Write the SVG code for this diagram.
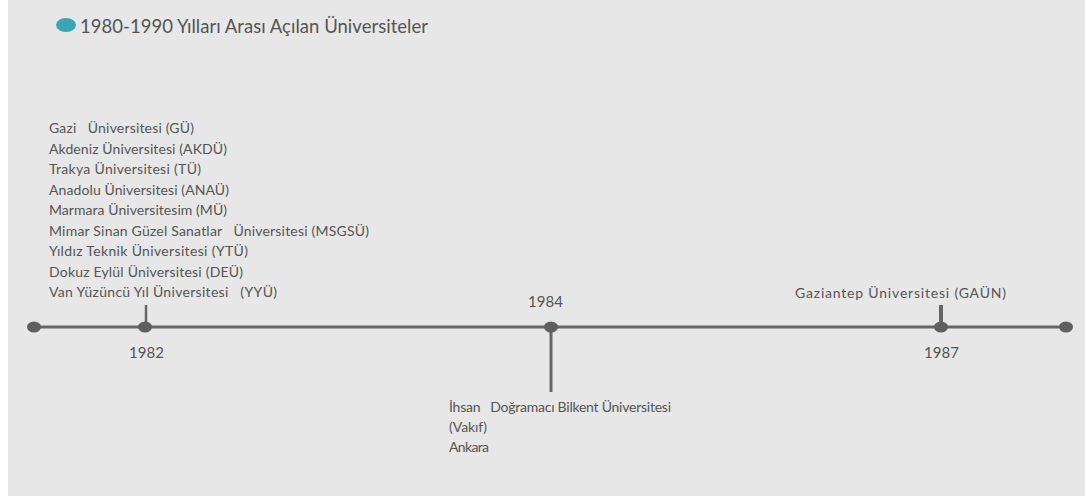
<svg xmlns="http://www.w3.org/2000/svg" width="1085" height="496" viewBox="0 0 1085 496">
<style>
.t{font-family:Lato,"Open Sans","Liberation Sans",sans-serif;fill:#555;font-size:14px}
.y{font-family:Lato,"Open Sans","Liberation Sans",sans-serif;fill:#555;font-size:15px}
.title{font-family:Lato,"Open Sans","Liberation Sans",sans-serif;fill:#555;font-size:18.5px}
.ln{stroke:#666;fill:none}
.dot{fill:#5f5f5f}
</style>
<rect x="8" y="0" width="1077" height="496" fill="#e6e7e6"/>
<g id="title">
<ellipse cx="66" cy="25" rx="10" ry="7" fill="#3aa6b5"/>
<text class="title" x="80" y="33" textLength="348" lengthAdjust="spacing">1980-1990 Yılları Arası Açılan Üniversiteler</text>
</g>
<g id="connectors">
<line class="ln" x1="34" y1="327" x2="1066" y2="327" stroke-width="3"/>
<line class="ln" x1="146" y1="305" x2="146" y2="327" stroke-width="2.5"/>
<line class="ln" x1="551" y1="327" x2="551" y2="392" stroke-width="3"/>
<line class="ln" x1="941" y1="305" x2="941" y2="324" stroke-width="4"/>
</g>
<g id="start"><ellipse class="dot" cx="34" cy="327" rx="7" ry="5.5"/></g>
<g id="end"><ellipse class="dot" cx="1066" cy="327" rx="7" ry="5.5"/></g>
<g id="n1982">
<ellipse class="dot" cx="145" cy="327" rx="7" ry="5.5"/>
<text class="y" x="129" y="358" textLength="35" lengthAdjust="spacing">1982</text>
<text class="t" x="49" y="133" xml:space="preserve" textLength="145" lengthAdjust="spacing">Gazi   Üniversitesi (GÜ)</text>
<text class="t" x="49" y="153.5" textLength="178" lengthAdjust="spacing">Akdeniz Üniversitesi (AKDÜ)</text>
<text class="t" x="49" y="174" textLength="152" lengthAdjust="spacing">Trakya Üniversitesi (TÜ)</text>
<text class="t" x="49" y="194.5" textLength="180" lengthAdjust="spacing">Anadolu Üniversitesi (ANAÜ)</text>
<text class="t" x="49" y="215" textLength="178" lengthAdjust="spacing">Marmara Üniversitesim (MÜ)</text>
<text class="t" x="49" y="235.5" xml:space="preserve" textLength="320" lengthAdjust="spacing">Mimar Sinan Güzel Sanatlar   Üniversitesi (MSGSÜ)</text>
<text class="t" x="49" y="256" textLength="199" lengthAdjust="spacing">Yıldız Teknik Üniversitesi (YTÜ)</text>
<text class="t" x="49" y="276.5" textLength="194" lengthAdjust="spacing">Dokuz Eylül Üniversitesi (DEÜ)</text>
<text class="t" x="49" y="297" xml:space="preserve" textLength="228" lengthAdjust="spacing">Van Yüzüncü Yıl Üniversitesi   (YYÜ)</text>
</g>
<g id="n1984">
<ellipse class="dot" cx="551" cy="327" rx="7" ry="5.5"/>
<text class="y" x="528" y="307" textLength="35" lengthAdjust="spacing">1984</text>
<text class="t" x="449" y="412" xml:space="preserve" textLength="222" lengthAdjust="spacing">İhsan   Doğramacı Bilkent Üniversitesi</text>
<text class="t" x="449" y="432" textLength="38" lengthAdjust="spacing">(Vakıf)</text>
<text class="t" x="449" y="452" textLength="40" lengthAdjust="spacing">Ankara</text>
</g>
<g id="n1987">
<ellipse class="dot" cx="941" cy="327" rx="7" ry="5.5"/>
<text class="y" x="924" y="358" textLength="35" lengthAdjust="spacing">1987</text>
<text class="t" x="795" y="298" textLength="211" lengthAdjust="spacing">Gaziantep Üniversitesi (GAÜN)</text>
</g>
</svg>
